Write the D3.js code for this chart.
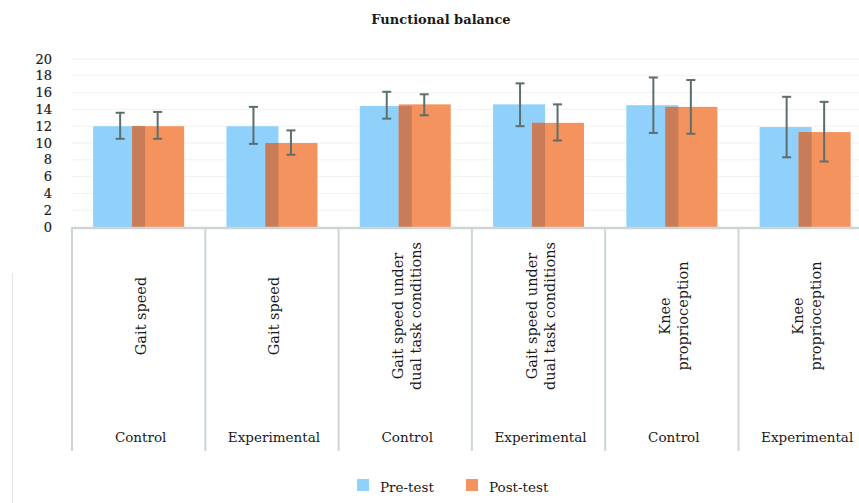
<!DOCTYPE html>
<html>
<head>
<meta charset="utf-8">
<script src="https://cdn.jsdelivr.net/npm/d3@7"></script>
<style>
  body { margin: 0; background: #fff; }
  svg { display: block; }
  text { font-family: "DejaVu Serif", serif; fill: #1a1a1a; }
</style>
</head>
<body>
<svg id="chart" width="859" height="503"></svg>
<script>
// === Data ===
const measures = [
  ['Gait speed'],
  ['Gait speed'],
  ['Gait speed under', 'dual task conditions'],
  ['Gait speed under', 'dual task conditions'],
  ['Knee', 'proprioception'],
  ['Knee', 'proprioception']
];
const groups = ['Control', 'Experimental', 'Control', 'Experimental', 'Control', 'Experimental'];

const preMean  = [12.0, 12.0, 14.4, 14.6, 14.5, 11.9];
const preHigh  = [13.6, 14.3, 16.1, 17.1, 17.8, 15.5];
const preLow   = [10.5,  9.9, 12.9, 12.0, 11.2,  8.3];

const postMean = [12.0, 10.0, 14.6, 12.4, 14.3, 11.3];
const postHigh = [13.7, 11.5, 15.8, 14.6, 17.5, 14.9];
const postLow  = [10.5,  8.6, 13.3, 10.3, 11.1,  7.8];

const yTicks = [0, 2, 4, 6, 8, 10, 12, 14, 16, 18, 20];
const seriesNames = ['Pre-test', 'Post-test'];
const colors = { pre: '#8fd1fb', post: '#f5935e', overlap: '#c97c58', err: '#5d6e6c' };

// === Layout ===
const svg = d3.select('#chart');
const margin = { left: 72, top: 59, bottom: 227 };

const x = d3.scaleBand()
    .domain(d3.range(groups.length))
    .range([margin.left, margin.left + 133.3 * groups.length])
    .paddingInner(0);

const y = d3.scaleLinear()
    .domain([0, 20])
    .range([margin.bottom, margin.top]);

const barW = 52;
const offset = 19.5;

// Title
svg.append('text')
    .attr('x', 441)
    .attr('y', 24)
    .attr('text-anchor', 'middle')
    .attr('font-size', 13)
    .attr('font-weight', 'bold')
    .text('Functional balance');

// Gridlines
svg.append('g')
    .selectAll('line')
    .data(yTicks.slice(1))
    .join('line')
    .attr('x1', margin.left)
    .attr('x2', 859)
    .attr('y1', d => y(d))
    .attr('y2', d => y(d))
    .attr('stroke', '#f1f1f1')
    .attr('stroke-width', 1);

// Y tick labels
svg.append('g')
    .selectAll('text')
    .data(yTicks)
    .join('text')
    .attr('x', 52)
    .attr('y', d => y(d) + 4.5)
    .attr('text-anchor', 'end')
    .attr('font-size', 13)
    .attr('stroke', '#1a1a1a')
    .attr('stroke-width', 0.2)
    .text(d => d);

// Bars
const bars = svg.append('g');
const idx = d3.range(groups.length);

bars.selectAll('rect.pre')
    .data(idx)
    .join('rect')
    .attr('class', 'pre')
    .attr('x', i => x(i) + x.bandwidth() / 2 - offset - barW / 2)
    .attr('y', i => y(preMean[i]))
    .attr('width', barW)
    .attr('height', i => y(0) - y(preMean[i]))
    .attr('fill', colors.pre);

bars.selectAll('rect.post')
    .data(idx)
    .join('rect')
    .attr('class', 'post')
    .attr('x', i => x(i) + x.bandwidth() / 2 + offset - barW / 2)
    .attr('y', i => y(postMean[i]))
    .attr('width', barW)
    .attr('height', i => y(0) - y(postMean[i]))
    .attr('fill', colors.post);

// darker strip where the two bars overlap
bars.selectAll('rect.overlap')
    .data(idx)
    .join('rect')
    .attr('class', 'overlap')
    .attr('x', i => x(i) + x.bandwidth() / 2 + offset - barW / 2)
    .attr('y', i => y(Math.min(preMean[i], postMean[i])))
    .attr('width', barW - 2 * offset)
    .attr('height', i => y(0) - y(Math.min(preMean[i], postMean[i])))
    .attr('fill', colors.overlap);

// Error bars
function errorBars(cls, dx, hi, lo) {
    const g = svg.append('g').attr('stroke', colors.err).attr('stroke-width', 2);
    g.selectAll('line.' + cls + 'v')
        .data(idx)
        .join('line')
        .attr('x1', i => x(i) + x.bandwidth() / 2 + dx)
        .attr('x2', i => x(i) + x.bandwidth() / 2 + dx)
        .attr('y1', i => y(hi[i]))
        .attr('y2', i => y(lo[i]));
    [hi, lo].forEach((arr, k) => {
        g.selectAll('line.' + cls + 'c' + k)
            .data(idx)
            .join('line')
            .attr('x1', i => x(i) + x.bandwidth() / 2 + dx - 4.5)
            .attr('x2', i => x(i) + x.bandwidth() / 2 + dx + 4.5)
            .attr('y1', i => y(arr[i]))
            .attr('y2', i => y(arr[i]));
    });
}
errorBars('pre', -offset + 1, preHigh, preLow);
errorBars('post', offset - 0.5, postHigh, postLow);

// Category axis: baseline and dividers
svg.append('line')
    .attr('x1', margin.left)
    .attr('x2', 859)
    .attr('y1', y(0) + 1)
    .attr('y2', y(0) + 1)
    .attr('stroke', '#cdd6d5')
    .attr('stroke-width', 2.5);

svg.append('g')
    .selectAll('line')
    .data(idx)
    .join('line')
    .attr('x1', i => x(i))
    .attr('x2', i => x(i))
    .attr('y1', y(0))
    .attr('y2', 451)
    .attr('stroke', '#cdd6d5')
    .attr('stroke-width', 2);

// stray frame line at the left
svg.append('line')
    .attr('x1', 12.5).attr('x2', 12.5)
    .attr('y1', 273).attr('y2', 503)
    .attr('stroke', '#dfe5e4')
    .attr('stroke-width', 1);

// Rotated measure labels
const lineH = 18;
svg.append('g')
    .selectAll('text')
    .data(idx)
    .join('text')
    .attr('transform', i => {
        const cx = x(i) + x.bandwidth() / 2 + 2;
        return `translate(${cx},316) rotate(-90)`;
    })
    .attr('text-anchor', 'middle')
    .attr('font-size', 14.5)
    .each(function (i) {
        const lines = measures[i];
        const t = d3.select(this);
        lines.forEach((l, k) => {
            t.append('tspan')
                .attr('x', 0)
                .attr('y', (k - (lines.length - 1) / 2) * lineH + 5)
                .text(l);
        });
    });

// Group labels
svg.append('g')
    .selectAll('text')
    .data(idx)
    .join('text')
    .attr('x', i => x(i) + x.bandwidth() / 2 + 2)
    .attr('y', 442)
    .attr('text-anchor', 'middle')
    .attr('font-size', 13.5)
    .text(i => groups[i]);

// Legend
const legend = svg.append('g');
const legendX = [357, 466];
[colors.pre, colors.post].forEach((c, k) => {
    legend.append('rect')
        .attr('x', legendX[k])
        .attr('y', 479)
        .attr('width', 12)
        .attr('height', 12)
        .attr('fill', c);
    legend.append('text')
        .attr('x', legendX[k] + 23)
        .attr('y', 492)
        .attr('font-size', 13.5)
        .text(seriesNames[k]);
});
</script>
</body>
</html>
